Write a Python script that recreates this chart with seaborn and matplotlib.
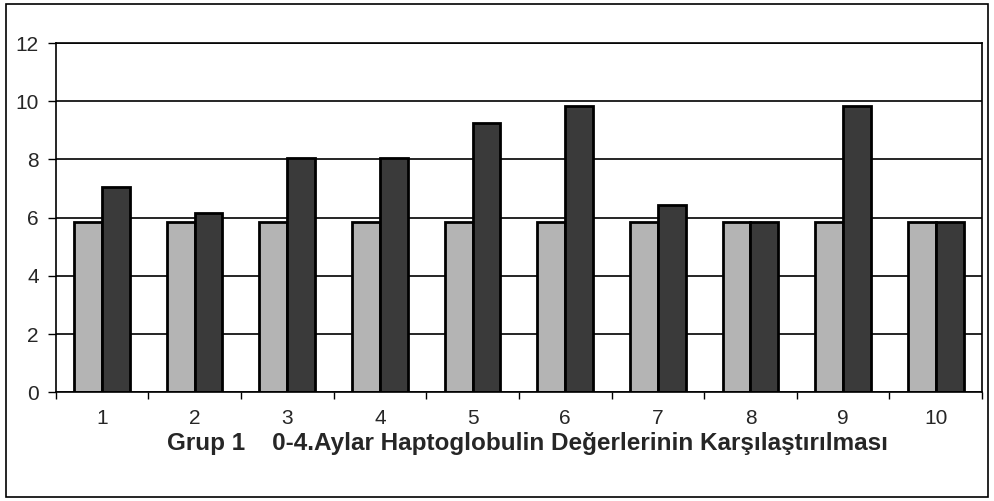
import matplotlib
matplotlib.use("Agg")
import matplotlib.pyplot as plt
import seaborn as sns
import pandas as pd
from matplotlib.patches import Rectangle

groups = ["1", "2", "3", "4", "5", "6", "7", "8", "9", "10"]
month0 = [5.85, 5.85, 5.85, 5.85, 5.85, 5.85, 5.85, 5.85, 5.85, 5.85]
month4 = [7.05, 6.15, 8.05, 8.05, 9.25, 9.85, 6.45, 5.85, 9.85, 5.85]
series = ["0. Ay", "4. Ay"]
xlabel = "Grup 1    0-4.Aylar Haptoglobulin Değerlerinin Karşılaştırılması"

df = pd.DataFrame({
    "grup": groups * 2,
    "deger": month0 + month4,
    "seri": [series[0]] * len(groups) + [series[1]] * len(groups),
})

sns.set_style("white")
plt.rcParams["font.family"] = ["Liberation Sans", "DejaVu Sans"]

fig = plt.figure(figsize=(9.94, 5.01), dpi=100)
ax = fig.add_axes([0.056, 0.217, 0.932, 0.697])

sns.barplot(data=df, x="grup", y="deger", hue="seri", order=groups,
            palette=["#b4b4b4", "#3a3a3a"], width=0.6, ax=ax,
            edgecolor="black", linewidth=2, legend=False, saturation=1)

ax.set_ylim(0, 12)
ax.set_xlim(-0.5, len(groups) - 0.5)
ax.set_yticks(range(0, 13, 2))
ax.yaxis.grid(True, color="black", linewidth=1.2)
ax.set_axisbelow(True)
for s in ax.spines.values():
    s.set_color("black")
    s.set_linewidth(1.2)

# tick marks at category boundaries, labels at centres
ax.set_xticks([i - 0.5 for i in range(len(groups) + 1)])
ax.set_xticklabels([])
ax.set_xticks(range(len(groups)), minor=True)
ax.set_xticklabels(groups, minor=True, fontsize=15)
ax.tick_params(axis="x", which="major", length=5, width=1, color="black", direction="out", bottom=True)
ax.tick_params(axis="x", which="minor", length=0, pad=12)
ax.tick_params(axis="y", length=6, width=1, color="black", direction="out", left=True,
               labelsize=15, pad=6)

ax.set_ylabel("")
ax.set_xlabel(xlabel, fontsize=17.5, fontweight="bold", labelpad=0)
ax.xaxis.set_label_coords(0.509, -0.115)

fig.patches.append(Rectangle((0.006, 0.008), 0.988, 0.984, transform=fig.transFigure,
                             fill=False, edgecolor="black", linewidth=1.2))

fig.savefig("out.png", dpi=100)
